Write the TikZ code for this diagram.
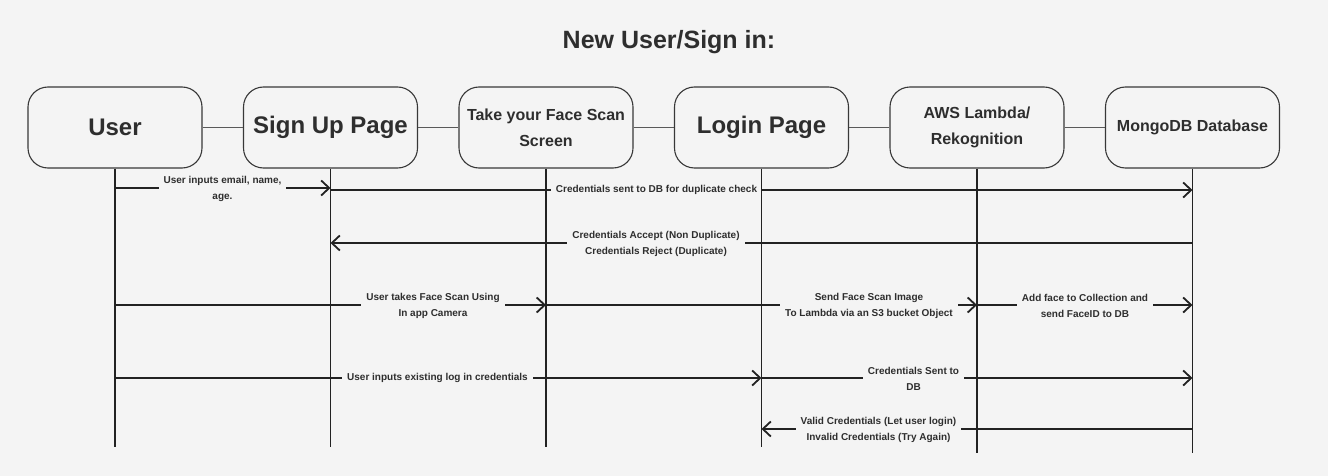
\documentclass[tikz,border=0pt]{standalone}
\usepackage{fontspec}
\setmainfont{Liberation Sans}
\usetikzlibrary{arrows.meta}
\definecolor{bg}{HTML}{F4F4F4}
\definecolor{ink}{HTML}{222222}
\definecolor{txt}{HTML}{2E2E2E}
\begin{document}
\begin{tikzpicture}[x=1pt,y=-1pt,
  actor/.style={draw=ink!90, line width=1.1pt, rounded corners=20pt, minimum width=174pt, minimum height=81pt, align=center, text=txt},
  bigtxt/.style={font=\bfseries\fontsize{24}{28}\selectfont},
  smalltxt/.style={font=\bfseries\fontsize{16}{26}\selectfont},
  life/.style={draw=ink, line width=1.8pt},
  link/.style={draw=ink!75, line width=0.9pt},
  msg/.style={draw=ink, line width=1.8pt, -{Straight Barb[length=8pt,width=15pt]}},
  lbl/.style={fill=bg, text=txt, font=\bfseries\fontsize{10}{16}\selectfont, align=center, inner xsep=5pt, inner ysep=1pt}]
\useasboundingbox (0,0) rectangle (1338,476);
\fill[white] (0,0) rectangle (1338,476);
\fill[bg] (0,0) rectangle (1328,476);

\node[font=\bfseries\fontsize{25}{30}\selectfont, text=txt] (title) at (669,42) {New User/Sign in:};

\node[actor,bigtxt] (user) at (115,127.5) {User};
\node[actor,bigtxt] (signup) at (330.5,127.5) {Sign Up Page};
\node[actor,smalltxt] (scan) at (546,127.5) {Take your Face Scan\\Screen};
\node[actor,bigtxt] (login) at (761.5,127.5) {Login Page};
\node[actor,smalltxt] (aws) at (977,127.5) {AWS Lambda/\\Rekognition};
\node[actor,smalltxt] (mongo) at (1192.5,127.5) {MongoDB Database};

\draw[link] (user) -- (signup);
\draw[link] (signup) -- (scan);
\draw[link] (scan) -- (login);
\draw[link] (login) -- (aws);
\draw[link] (aws) -- (mongo);

\coordinate (m1) at (0,188);
\coordinate (m2) at (0,190);
\coordinate (m3) at (0,243);
\coordinate (m4) at (0,305);
\coordinate (m7) at (0,378);
\coordinate (m9) at (0,429);
\coordinate (e1) at (0,447);
\coordinate (e2) at (0,453);

\draw[msg] (user |- m1) -- (signup |- m1);
\draw[msg] (signup |- m2) -- (mongo |- m2);
\draw[msg] (mongo |- m3) -- (signup |- m3);
\draw[msg] (user |- m4) -- (scan |- m4);
\draw[msg] (scan |- m4) -- (aws |- m4);
\draw[msg] (aws |- m4) -- (mongo |- m4);
\draw[msg] (user |- m7) -- (login |- m7);
\draw[msg] (login |- m7) -- (mongo |- m7);
\draw[msg] (mongo |- m9) -- (login |- m9);

\node[lbl] (l1) at (222.5,188.5) {User inputs email, name,\\age.};
\node[lbl] (l2) at (656.5,190) {Credentials sent to DB for duplicate check};
\node[lbl] (l3) at (656,243.5) {Credentials Accept (Non Duplicate)\\Credentials Reject (Duplicate)};
\node[lbl] (l4) at (433,306) {User takes Face Scan Using\\In app Camera};
\node[lbl] (l5) at (869,306) {Send Face Scan Image\\To Lambda via an S3 bucket Object};
\node[lbl] (l6) at (1085,306) {Add face to Collection and\\send FaceID to DB};
\node[lbl] (l7) at (437.5,378) {User inputs existing log in credentials};
\node[lbl] (l8) at (913.5,379) {Credentials Sent to\\DB};
\node[lbl] (l9) at (878.5,430) {Valid Credentials (Let user login)\\Invalid Credentials (Try Again)};

\draw[life] (user.south) -- (user |- e1);
\draw[life] (signup.south) -- (signup |- e1);
\draw[life] (scan.south) -- (scan |- e1);
\draw[life] (login.south) -- (login |- e1);
\draw[life] (aws.south) -- (aws |- e2);
\draw[life] (mongo.south) -- (mongo |- e2);
\end{tikzpicture}
\end{document}
